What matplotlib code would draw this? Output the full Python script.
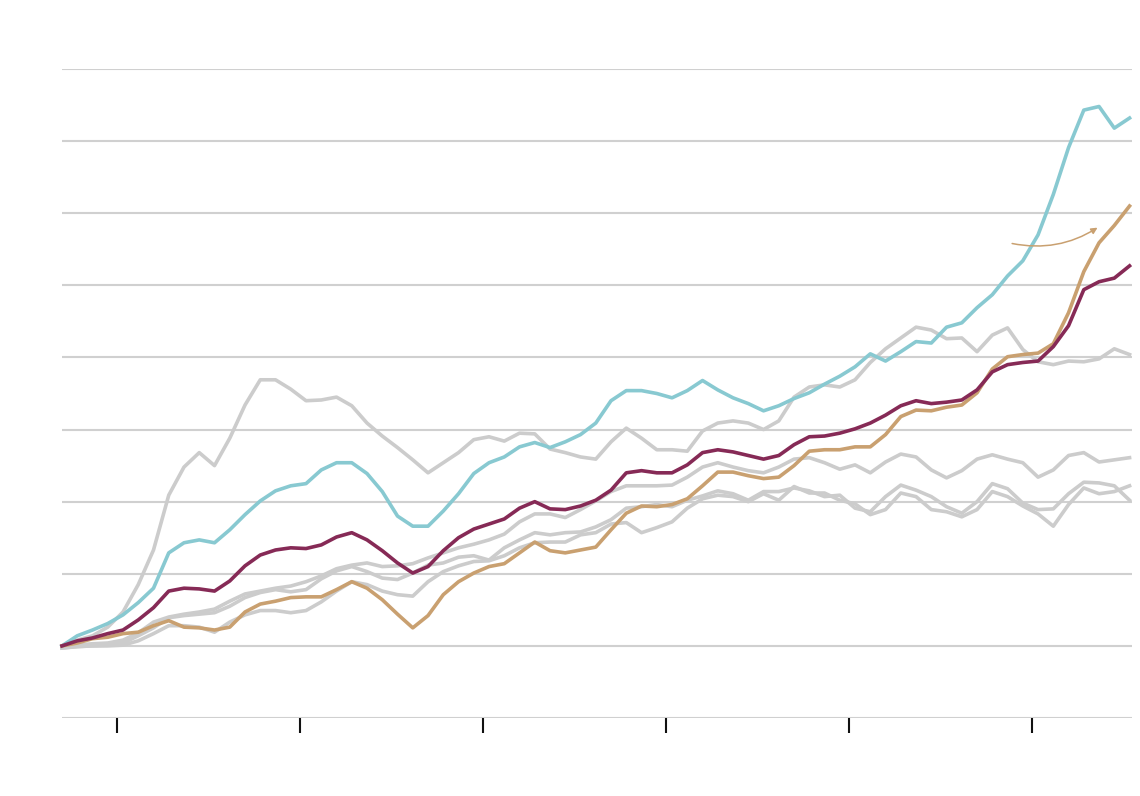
import matplotlib
matplotlib.use("Agg")
import matplotlib.pyplot as plt
import numpy as np

# monthly index values, % change since start
months = np.arange(71)
tick_pos = [3.6, 15.6, 27.6, 39.6, 51.6, 63.6]

teal = [0, 1.4, 2.2, 3.1, 4.3, 6.0, 8.0, 12.9, 14.3, 14.7, 14.3, 16.1, 18.2, 20.1, 21.5,
        22.2, 22.5, 24.4, 25.4, 25.4, 23.9, 21.4, 18.0, 16.6, 16.6, 18.7, 21.1, 23.9, 25.4,
        26.2, 27.6, 28.2, 27.5, 28.3, 29.3, 30.9, 34.0, 35.4, 35.4, 35.0, 34.4, 35.4, 36.8,
        35.5, 34.4, 33.6, 32.6, 33.3, 34.3, 35.1, 36.3, 37.4, 38.7, 40.5, 39.5, 40.8, 42.2,
        42.0, 44.2, 44.8, 46.9, 48.7, 51.3, 53.4, 57.0, 62.6, 69.1, 74.3, 74.8, 71.8, 73.2]

maroon = [0, 0.7, 1.1, 1.7, 2.2, 3.6, 5.3, 7.6, 8.0, 7.9, 7.6, 9.0, 11.1, 12.6, 13.3,
          13.6, 13.5, 14.0, 15.1, 15.7, 14.7, 13.2, 11.5, 10.1, 11.0, 13.2, 15.0, 16.2, 16.9,
          17.6, 19.1, 20.0, 19.0, 18.9, 19.4, 20.2, 21.6, 24.0, 24.3, 24.0, 24.0, 25.1, 26.8,
          27.2, 26.9, 26.4, 25.9, 26.4, 27.9, 29.0, 29.1, 29.5, 30.1, 30.9, 32.0, 33.3, 34.0,
          33.6, 33.8, 34.1, 35.5, 38.0, 39.0, 39.3, 39.5, 41.5, 44.4, 49.4, 50.5, 51.0, 52.7]

tan = [0, 0.4, 1.0, 1.2, 1.7, 1.9, 2.8, 3.5, 2.6, 2.5, 2.2, 2.6, 4.7, 5.8, 6.2,
       6.7, 6.8, 6.8, 7.8, 8.9, 8.0, 6.4, 4.4, 2.5, 4.2, 7.1, 8.9, 10.1, 11.0,
       11.4, 12.9, 14.4, 13.2, 12.9, 13.3, 13.7, 16.1, 18.4, 19.4, 19.3, 19.6, 20.4, 22.2,
       24.1, 24.1, 23.6, 23.2, 23.4, 25.0, 27.0, 27.2, 27.2, 27.6, 27.6, 29.3, 31.8, 32.7,
       32.6, 33.1, 33.4, 35.1, 38.4, 40.1, 40.4, 40.6, 41.9, 46.2, 51.9, 55.9, 58.3, 61.0]

gray1 = [0, 0.8, 1.4, 2.6, 4.7, 8.5, 13.3, 20.9, 24.8, 26.8, 25.0, 28.8, 33.4, 36.9, 36.9,
         35.6, 34.0, 34.1, 34.5, 33.3, 30.9, 29.1, 27.5, 25.8, 24.0, 25.4, 26.8, 28.6, 29.0,
         28.4, 29.5, 29.4, 27.3, 26.8, 26.2, 25.9, 28.3, 30.2, 28.8, 27.2, 27.2, 27.0, 29.8,
         30.9, 31.2, 30.9, 30.0, 31.2, 34.5, 35.9, 36.2, 35.9, 36.9, 39.3, 41.2, 42.7, 44.2,
         43.8, 42.6, 42.7, 40.8, 43.1, 44.1, 41.1, 39.4, 39.0, 39.5, 39.4, 39.8, 41.2, 40.4]

gray2 = [0, 0.1, 0.3, 0.4, 0.8, 1.8, 3.3, 4.0, 4.4, 4.7, 5.1, 6.2, 7.2, 7.6, 8.0,
         8.3, 8.9, 9.7, 10.7, 11.2, 11.5, 11.0, 11.1, 11.4, 12.2, 12.9, 13.6, 14.1, 14.7,
         15.5, 17.2, 18.3, 18.3, 17.8, 18.9, 20.1, 21.4, 22.2, 22.2, 22.2, 22.3, 23.4, 24.8,
         25.4, 24.8, 24.3, 24.0, 24.8, 25.9, 26.1, 25.4, 24.5, 25.1, 24.0, 25.5, 26.6, 26.2,
         24.4, 23.3, 24.3, 25.9, 26.5, 25.9, 25.4, 23.4, 24.4, 26.4, 26.8, 25.5, 25.8, 26.1]

gray3 = [-0.3, -0.1, 0, 0.1, 0.4, 1.4, 2.5, 3.9, 4.2, 4.4, 4.6, 5.5, 6.7, 7.4, 7.8,
         7.5, 7.8, 9.3, 10.4, 11.0, 10.3, 9.4, 9.2, 10.1, 11.2, 11.5, 12.3, 12.5, 11.9,
         13.6, 14.7, 15.7, 15.4, 15.7, 15.8, 16.5, 17.5, 19.1, 19.3, 19.6, 19.3, 20.2, 20.8,
         21.5, 21.1, 20.2, 21.4, 21.4, 21.9, 21.5, 20.7, 20.9, 19.1, 18.6, 20.7, 22.3, 21.6,
         20.7, 19.3, 18.4, 20.0, 22.5, 21.8, 19.8, 18.9, 19.0, 21.1, 22.7, 22.6, 22.2, 20.2]

gray4 = [-0.3, -0.1, 0, 0, 0.1, 0.7, 1.7, 2.8, 2.8, 2.6, 1.9, 3.3, 4.3, 4.9, 4.9,
         4.6, 4.9, 6.1, 7.6, 8.9, 8.5, 7.6, 7.1, 6.9, 8.9, 10.3, 11.1, 11.7, 11.8,
         12.5, 13.6, 14.3, 14.4, 14.4, 15.4, 15.7, 16.9, 17.1, 15.7, 16.4, 17.2, 19.1, 20.4,
         20.9, 20.7, 20.0, 21.1, 20.2, 22.1, 21.2, 21.2, 20.2, 19.7, 18.2, 18.9, 21.2, 20.7,
         18.9, 18.6, 17.9, 18.9, 21.4, 20.7, 19.4, 18.3, 16.6, 19.6, 21.9, 21.1, 21.4, 22.2]

fig = plt.figure(figsize=(11.4, 7.96), dpi=100)
ax = fig.add_axes([62 / 1140, 78 / 796, 1070 / 1140, 649 / 796])

for g in [gray1, gray2, gray3, gray4]:
    ax.plot(months, g, color="#cccccc", lw=2.6, solid_joinstyle="round", clip_on=False)
ax.plot(months, teal, color="#88c9d1", lw=2.6, clip_on=False)
ax.plot(months, tan, color="#c9a070", lw=2.6, clip_on=False)
ax.plot(months, maroon, color="#862a56", lw=2.6, clip_on=False)

ax.annotate("", xy=(67.9, 58.0), xytext=(62.3, 55.8),
            arrowprops=dict(arrowstyle="-|>", color="#c9a070", lw=1.1,
                            connectionstyle="arc3,rad=0.2", mutation_scale=9,
                            shrinkA=0, shrinkB=0))

ax.set_xlim(0, 70.16)
ax.set_ylim(-10, 80)
ax.set_yticks(np.arange(-10, 81, 10))
ax.yaxis.grid(True, color="#d0d0d0", lw=1.5)
ax.set_axisbelow(True)
ax.tick_params(axis="y", length=0, labelleft=False)
ax.set_xticks(tick_pos)
ax.tick_params(axis="x", direction="out", length=11, width=1.5, color="#111111",
               labelbottom=False)
for s in ax.spines.values():
    s.set_visible(False)

fig.savefig("out.png", dpi=100)
